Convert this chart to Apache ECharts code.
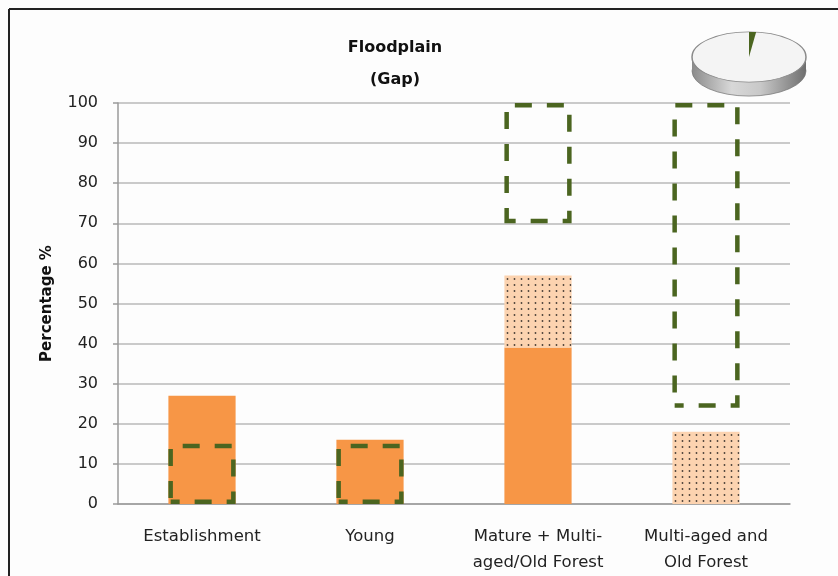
<!DOCTYPE html>
<html>
<head>
<meta charset="utf-8">
<script src="https://cdn.jsdelivr.net/npm/echarts@6/dist/echarts.min.js"></script>
<style>html,body{margin:0;padding:0;background:#fdfdfd;}#c{width:838px;height:576px;}</style>
</head>
<body>
<div id="c"></div>
<script>
// ---- data ----
var categories = ['Establishment', 'Young', 'Mature + Multi-\naged/Old Forest', 'Multi-aged and\nOld Forest'];
var solidValues = [27, 16, 39, 0];
var dottedValues = [0, 0, 18, 18];
var boxLow = [0, 0, 70, 24];
var boxHigh = [15, 15, 100, 100];
var yTicks = [0, 10, 20, 30, 40, 50, 60, 70, 80, 90, 100];
var pieValues = [2, 98];

// ---- styles ----
var ORANGE = '#f79646';
var GREEN = '#4b6520';
var pat = document.createElement('canvas');
pat.width = 7; pat.height = 6;
var pc = pat.getContext('2d');
pc.fillStyle = '#fcd3b0'; pc.fillRect(0, 0, 7, 6);
pc.fillStyle = '#4a4038';
pc.beginPath(); pc.arc(3.5, 3, 0.9, 0, Math.PI * 2); pc.fill();

var boxRange = boxHigh.map(function (h, i) { return h - boxLow[i]; });

var chart = echarts.init(document.getElementById('c'));

// pie inset (angles from data)
var pieTotal = pieValues.reduce(function (a, b) { return a + b; }, 0);
var startA = -Math.PI / 2;
var endA = startA + 2 * Math.PI * pieValues[0] / pieTotal;
var R = 57, SY = 0.44, TH = 14 / 0.44;
var sideGrad = new echarts.graphic.LinearGradient(0, 0, 1, 0, [
  { offset: 0, color: '#8a8a8a' }, { offset: 0.35, color: '#d8d8d8' },
  { offset: 0.6, color: '#c8c8c8' }, { offset: 1, color: '#6e6e6e' }
]);

chart.setOption({
  backgroundColor: '#fdfdfd',
  animation: false,
  title: {
    text: 'Floodplain\n(Gap)',
    left: 390, top: 27, textAlign: 'center',
    textStyle: { fontFamily: 'DejaVu Sans', fontWeight: 'bold', fontSize: 16, lineHeight: 32, color: '#111' }
  },
  grid: { left: 118, right: 48, top: 103, bottom: 69 },
  xAxis: {
    type: 'category', data: categories,
    axisLine: { lineStyle: { color: '#9a9a9a', width: 1.5 } },
    axisTick: { show: false },
    axisLabel: { margin: 20, fontFamily: 'DejaVu Sans', fontSize: 16.5, lineHeight: 26, color: '#222', interval: 0 }
  },
  yAxis: {
    type: 'value', min: 0, max: 100, interval: 10,
    name: 'Percentage %', nameLocation: 'middle', nameGap: 63, nameRotate: 90,
    nameTextStyle: { fontFamily: 'DejaVu Sans', fontWeight: 'bold', fontSize: 15, color: '#111' },
    axisLine: { show: true, lineStyle: { color: '#9a9a9a', width: 1.5 } },
    axisTick: { show: true, length: 5, lineStyle: { color: '#9a9a9a', width: 1.5 } },
    axisLabel: {
      margin: 20, fontFamily: 'DejaVu Sans', fontSize: 16, color: '#222',
      formatter: function (v) { return yTicks.indexOf(v) >= 0 ? String(v) : ''; }
    },
    splitLine: { lineStyle: { color: '#b9b9b9', width: 1.5 } }
  },
  series: [
    { type: 'bar', stack: 'a', data: solidValues, barWidth: '40%', barGap: '-100%',
      itemStyle: { color: ORANGE } },
    { type: 'bar', stack: 'a', data: dottedValues, barWidth: '40%', barGap: '-100%',
      itemStyle: { color: { image: pat, repeat: 'repeat' } } },
    { type: 'bar', stack: 'b', data: boxLow, barWidth: '40%', barGap: '-100%',
      itemStyle: { color: 'rgba(0,0,0,0)' }, silent: true },
    { type: 'bar', stack: 'b', data: boxRange, barWidth: '40%', barGap: '-100%',
      itemStyle: { color: 'rgba(0,0,0,0)', borderColor: GREEN, borderWidth: 4.5,
        borderType: [17, 15], borderDashOffset: 8 } }
  ],
  graphic: [
    { type: 'line', shape: { x1: 9, y1: 9, x2: 840, y2: 9 }, style: { stroke: '#222', lineWidth: 2 }, silent: true },
    { type: 'line', shape: { x1: 9, y1: 9, x2: 9, y2: 580 }, style: { stroke: '#222', lineWidth: 2 }, silent: true },
    { type: 'group', x: 749, y: 57, scaleY: SY, silent: true, children: [
      { type: 'circle', shape: { cx: 0, cy: TH, r: R }, style: { fill: sideGrad, stroke: '#777', lineWidth: 1 } },
      { type: 'rect', shape: { x: -R, y: 0, width: 2 * R, height: TH }, style: { fill: sideGrad } },
      { type: 'circle', shape: { cx: 0, cy: 0, r: R }, style: { fill: '#f4f4f4', stroke: '#8a8a8a', lineWidth: 1.5 } },
      { type: 'sector', shape: { cx: 0, cy: 0, r: R, r0: 0, startAngle: startA, endAngle: endA, clockwise: true },
        style: { fill: GREEN } }
    ] }
  ]
});
</script>
</body>
</html>
